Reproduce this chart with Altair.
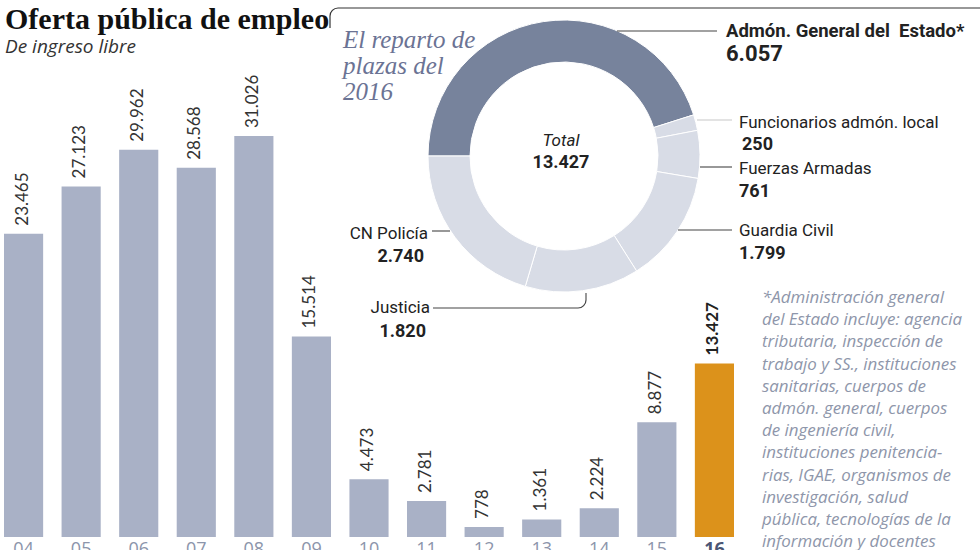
import altair as alt
import pandas as pd
import math

# ---------------- data ----------------
years = ["04", "05", "06", "07", "08", "09", "10", "11", "12", "13", "14", "15", "16"]
plazas = [23465, 27123, 29962, 28568, 31026, 15514, 4473, 2781, 778, 1361, 2224, 8877, 13427]

slices = ["Admón. General del  Estado*", "Funcionarios admón. local", "Fuerzas Armadas",
          "Guardia Civil", "Justicia", "CN Policía"]
slice_values = [6057, 250, 761, 1799, 1820, 2740]
total_2016 = 13427

footnote = ["*Administración general", "del Estado incluye: agencia", "tributaria, inspección de",
            "trabajo y SS., instituciones", "sanitarias, cuerpos de", "admón. general, cuerpos",
            "de ingeniería civil,", "instituciones penitencia-", "rias, IGAE, organismos de",
            "investigación, salud", "pública, tecnologías de la", "información y docentes"]


def es(v):
    return f"{v:,}".replace(",", ".")


bars_df = pd.DataFrame({"year": years, "value": plazas,
                        "label": [es(v) for v in plazas], "base": [0] * len(years)})
pie_df = pd.DataFrame({"name": slices, "value": slice_values, "idx": list(range(len(slices)))})

BAR = "#a9b1c6"
ORANGE = "#dc921b"
DARK = "#77839c"
LIGHT = "#d8dce6"
TXT = "#222222"
LINE = "#444444"
HI = "16"

xs = alt.Scale(domain=years, range=[4, 734], paddingInner=0.32, paddingOuter=0)
ys = alt.Scale(domain=[0, 41550], range=[537, 0], nice=False, zero=False)

base = alt.Chart(bars_df)

bars = base.mark_bar().encode(
    x=alt.X("year:N", scale=xs, axis=None),
    y=alt.Y("value:Q", scale=ys, axis=None),
    color=alt.condition(alt.datum.year == HI, alt.value(ORANGE), alt.value(BAR)),
)

val_norm = base.transform_filter(alt.datum.year != HI).mark_text(
    angle=270, align="left", baseline="middle", dx=8, dy=-1,
    font="Lato", fontSize=17, color="#333333",
).encode(x=alt.X("year:N", scale=xs), y=alt.Y("value:Q", scale=ys), text="label:N")

val_hi = base.transform_filter(alt.datum.year == HI).mark_text(
    angle=270, align="left", baseline="middle", dx=8, dy=-1,
    font="Lato", fontSize=17, fontWeight="bold", color="#222222",
).encode(x=alt.X("year:N", scale=xs), y=alt.Y("value:Q", scale=ys), text="label:N")

tick_norm = base.transform_filter(alt.datum.year != HI).mark_text(
    baseline="top", dy=4, font="Open Sans", fontSize=18, color="#8c95ab",
).encode(x=alt.X("year:N", scale=xs), y=alt.Y("base:Q", scale=ys), text="year:N")

tick_hi = base.transform_filter(alt.datum.year == HI).mark_text(
    baseline="top", dy=4, font="Open Sans", fontSize=18, fontWeight="bold", color="#4b5675",
).encode(x=alt.X("year:N", scale=xs), y=alt.Y("base:Q", scale=ys), text="year:N")

donut = alt.Chart(pie_df).mark_arc(
    outerRadius=136, innerRadius=94, stroke="white", strokeWidth=1,
).encode(
    theta=alt.Theta("value:Q", stack=True,
                    scale=alt.Scale(range=[1.5 * math.pi, 3.5 * math.pi])),
    order=alt.Order("idx:Q", sort="ascending"),
    color=alt.Color("name:N", scale=alt.Scale(domain=slices,
                                              range=[DARK, LIGHT, LIGHT, LIGHT, LIGHT, LIGHT]),
                    legend=None),
    x=alt.value(564), y=alt.value(156),
)

one = alt.Data(values=[{"a": 1}])


def txt(text, x, y, size=17, weight="normal", style="normal", align="left",
        color=TXT, font="Roboto", lh=None):
    if isinstance(text, str):
        text = text.replace("  ", " \u00a0")
    kw = dict(text=text, align=align, baseline="alphabetic", fontSize=size,
              fontWeight=weight, fontStyle=style, color=color, font=font)
    if lh:
        kw["lineHeight"] = lh
    return alt.Chart(one).mark_text(**kw).encode(x=alt.value(x), y=alt.value(y))


def rule(x1, y1, x2, y2, color=LINE, w=1.1):
    return alt.Chart(one).mark_rule(color=color, strokeWidth=w).encode(
        x=alt.value(x1), y=alt.value(y1), x2=alt.value(x2), y2=alt.value(y2))


def corner(cx, cy, t1, t2, color=LINE, r=8.0, w=1.2):
    return alt.Chart(one).mark_arc(
        innerRadius=r - w / 2, outerRadius=r + w / 2, color=color
    ).encode(x=alt.value(cx), y=alt.value(cy), theta=alt.value(t1), theta2=alt.value(t2))


layers = [bars, val_norm, val_hi, tick_norm, tick_hi, donut]

# frame line with rounded corner
layers += [rule(338, 8, 980, 8, color="#333333", w=1.2),
           rule(330, 16, 330, 28, color="#333333", w=1.2),
           corner(338, 16, 1.5 * math.pi, 2 * math.pi, color="#333333")]

# titles
layers += [txt("Oferta pública de empleo", 5, 29, size=30, weight="bold",
               font="Liberation Serif", color="#111111"),
           txt("De ingreso libre", 5, 53, size=19, style="italic", font="Open Sans", color="#333333"),
           txt(["El reparto de", "plazas del", "2016"], 343, 48, size=25, style="italic",
               font="Liberation Serif", color="#6b7394", lh=26)]

# centre of donut
layers += [txt("Total", 561, 146, size=17, style="italic", align="center"),
           txt(es(total_2016), 561, 168, size=18, weight="bold", align="center")]

# slice labels
layers += [rule(617, 31, 717, 31),
           txt(slices[0], 726, 37, size=18.5, weight="bold"),
           txt(es(slice_values[0]), 726, 61, size=22, weight="bold"),
           rule(697, 120, 732, 120, color="#c8c8c8"),
           txt(slices[1], 739, 128, size=17),
           txt(es(slice_values[1]), 742, 150, size=18, weight="bold"),
           rule(700, 167, 732, 167),
           txt(slices[2], 739, 174, size=17),
           txt(es(slice_values[2]), 739, 197, size=18, weight="bold"),
           rule(678, 230, 732, 230),
           txt(slices[3], 739, 236, size=17),
           txt(es(slice_values[3]), 739, 259, size=18, weight="bold"),
           rule(432, 231, 450, 231),
           txt(slices[5], 428, 239, size=17, align="right"),
           txt(es(slice_values[5]), 424, 262, size=18, weight="bold", align="right"),
           rule(433, 308, 578, 308),
           corner(578, 300, 0.5 * math.pi, math.pi),
           rule(586, 293, 586, 300),
           txt(slices[4], 430, 313, size=17, align="right"),
           txt(es(slice_values[4]), 426, 337, size=18, weight="bold", align="right")]

# footnote
layers += [txt(footnote, 762, 303, size=16.9, style="italic", font="Open Sans",
               color="#8e96aa", lh=22.2)]

chart = alt.layer(*layers).properties(
    width=980, height=550, autosize=alt.AutoSizeParams(type="none"), padding=0,
    background="white",
).configure_view(stroke=None)

chart.save("out.html", embed_options={"renderer": "svg", "actions": False})
